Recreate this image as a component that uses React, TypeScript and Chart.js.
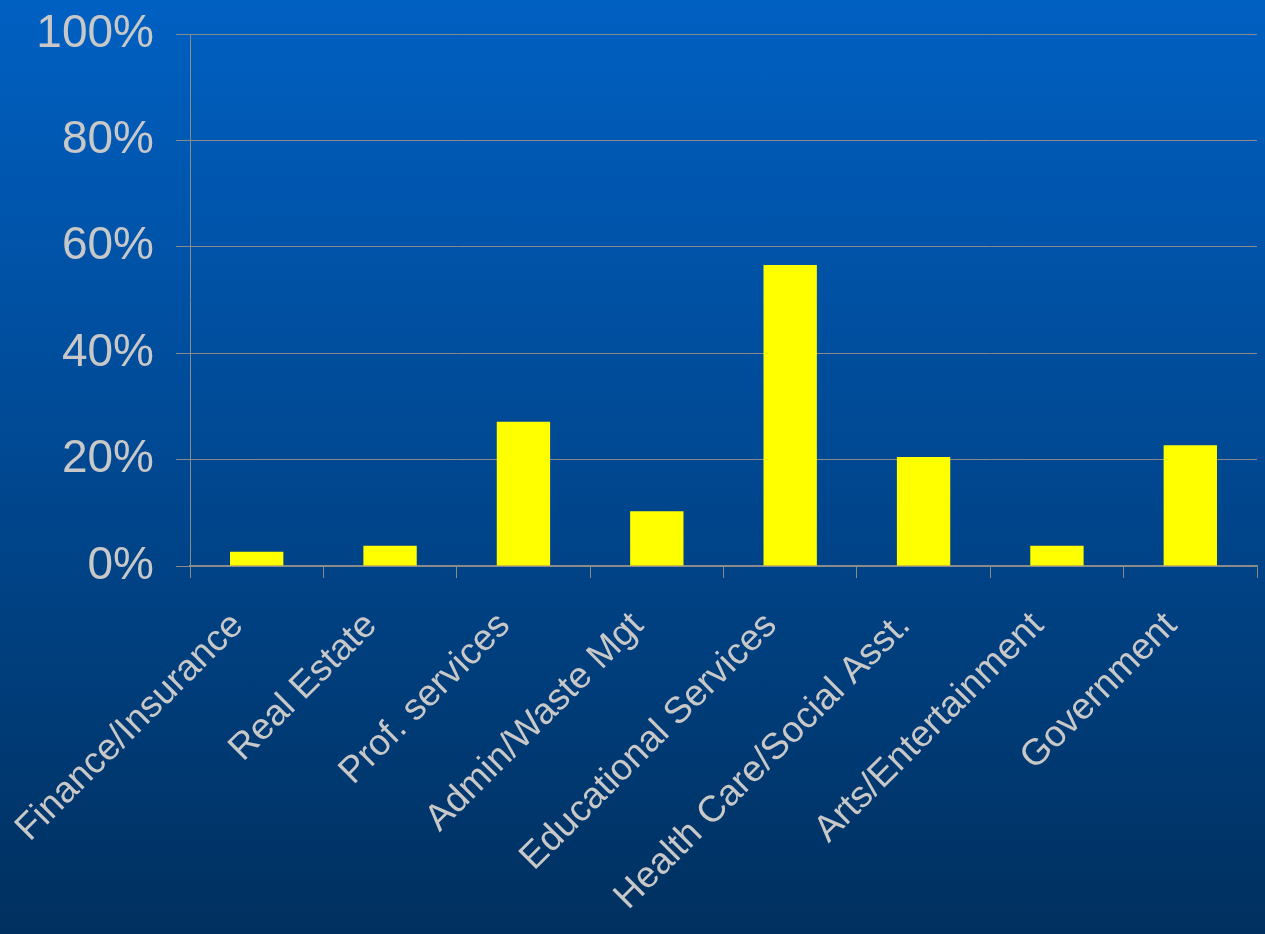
import React, { useEffect, useRef } from "react";
import { Chart, registerables } from "chart.js";

Chart.register(...registerables);

const categories = [
  "Finance/Insurance",
  "Real Estate",
  "Prof. services",
  "Admin/Waste Mgt",
  "Educational Services",
  "Health Care/Social Asst.",
  "Arts/Entertainment",
  "Government",
];
const shares = [2.7, 3.8, 27.1, 10.3, 56.6, 20.5, 3.8, 22.7];
const yTicks = [0, 20, 40, 60, 80, 100];

export default function App() {
  const ref = useRef<HTMLCanvasElement | null>(null);

  useEffect(() => {
    document.body.style.margin = "0";
    const canvas = ref.current;
    if (!canvas) return;
    const chart = new Chart(canvas, {
      type: "bar",
      data: {
        labels: categories,
        datasets: [
          {
            data: shares,
            backgroundColor: "#FFFF00",
            borderWidth: 0,
            categoryPercentage: 1,
            barPercentage: 0.4,
          },
        ],
      },
      options: {
        responsive: false,
        animation: false,
        layout: { padding: { top: 34, right: 8, left: 0, bottom: 0 } },
        plugins: { legend: { display: false }, tooltip: { enabled: false } },
        scales: {
          x: {
            grid: {
              display: true,
              drawOnChartArea: false,
              drawTicks: true,
              tickLength: 12,
              color: "#8a8a8a",
              lineWidth: 1,
              offset: true,
            },
            border: { display: true, color: "#8a8a8a", width: 1.5 },
            ticks: {
              color: "#C8C8C8",
              font: { family: "'Liberation Sans', Arial, sans-serif", size: 37 },
              maxRotation: 45,
              minRotation: 45,
              padding: 26,
              labelOffset: -19,
              autoSkip: false,
            },
            afterFit: (s: any) => {
              s.height = 368;
              s.paddingLeft = 0;
              s.paddingRight = 0;
            },
          },
          y: {
            min: 0,
            max: 100,
            afterBuildTicks: (s: any) => {
              s.ticks = yTicks.map((v) => ({ value: v }));
            },
            grid: {
              color: "#8a8a8a",
              lineWidth: 1,
              tickLength: 14,
            },
            border: { display: true, color: "#8a8a8a", width: 1 },
            ticks: {
              color: "#C8C8C8",
              font: { family: "'Liberation Sans', Arial, sans-serif", size: 46 },
              padding: 22,
              callback: (v: any) => v + "%",
            },
            afterFit: (s: any) => {
              s.width = 190;
              s.paddingTop = 0;
              s.paddingBottom = 0;
            },
          },
        },
      },
    });
    return () => chart.destroy();
  }, []);

  return (
    <div
      style={{
        width: 1265,
        height: 934,
        background: "linear-gradient(to bottom, #0060C2 0%, #004A96 45%, #00305F 100%)",
      }}
    >
      <canvas ref={ref} width={1265} height={934} style={{ display: "block" }} />
    </div>
  );
}
